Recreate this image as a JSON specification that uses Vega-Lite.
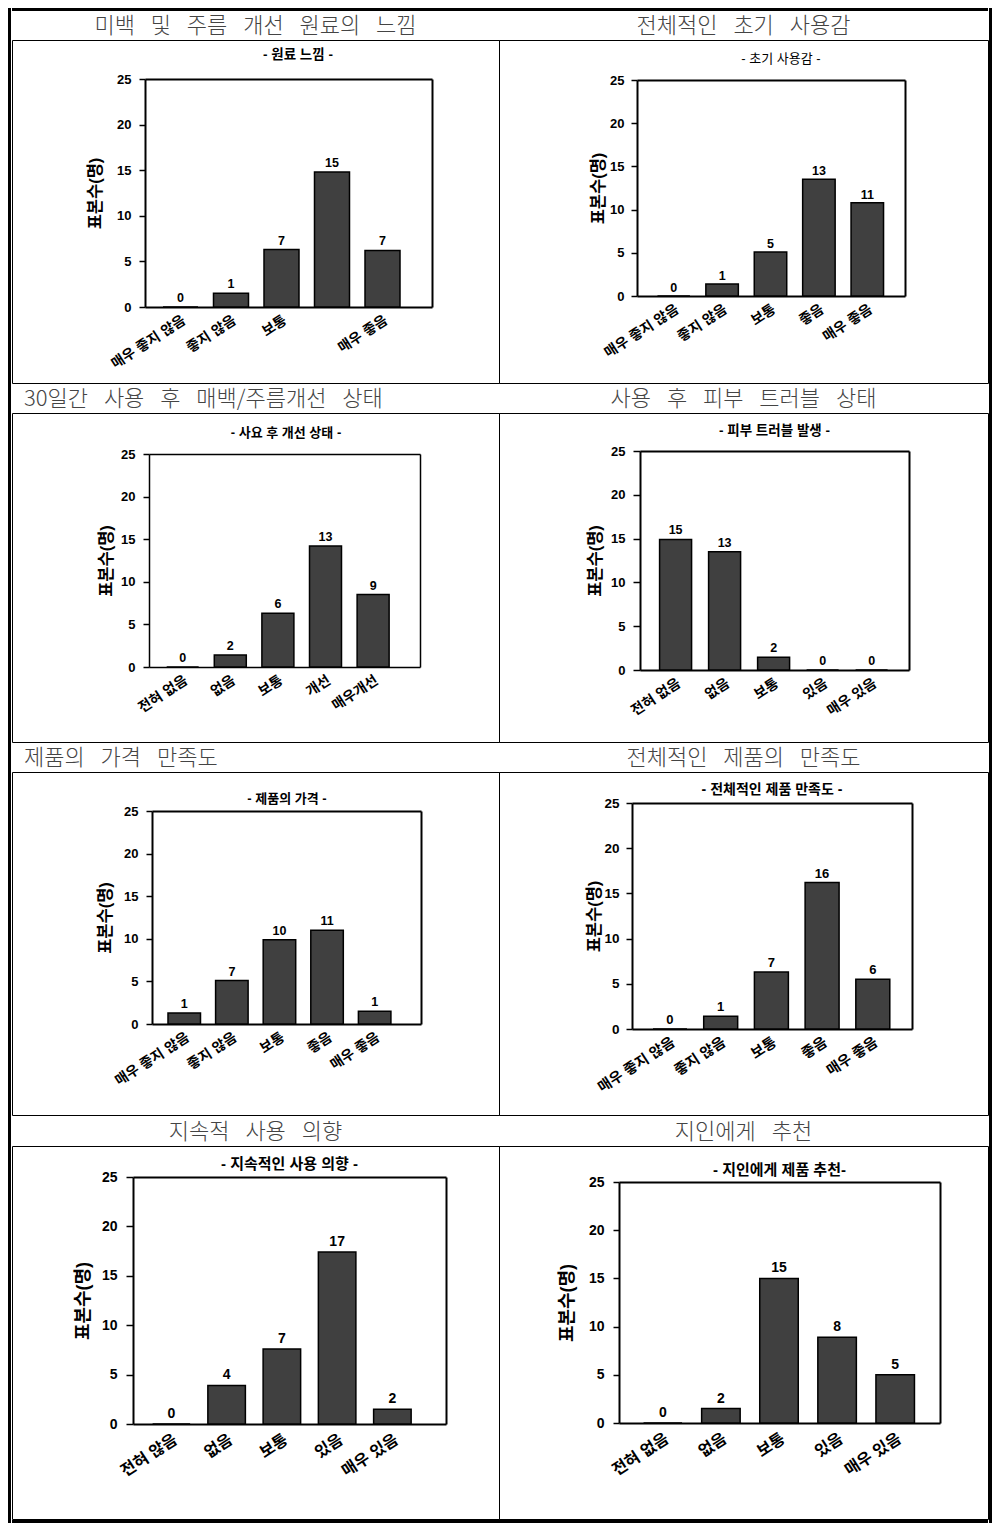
{
  "$schema": "https://vega.github.io/schema/vega-lite/v6.json",
  "padding": {"left": 8, "top": 8, "right": 7, "bottom": 8},
  "background": "white",
  "spacing": 0,
  "datasets": {
    "p1": [
      {"cat": "매우 좋지 않음", "v": 0, "label": 0},
      {"cat": "좋지 않음", "v": 1.5, "label": 1},
      {"cat": "보통", "v": 6.3, "label": 7},
      {"cat": "좋음", "v": 14.8, "label": 15},
      {"cat": "매우 좋음", "v": 6.2, "label": 7}
    ],
    "p2": [
      {"cat": "매우 좋지 않음", "v": 0, "label": 0},
      {"cat": "좋지 않음", "v": 1.4, "label": 1},
      {"cat": "보통", "v": 5.1, "label": 5},
      {"cat": "좋음", "v": 13.5, "label": 13},
      {"cat": "매우 좋음", "v": 10.8, "label": 11}
    ],
    "p3": [
      {"cat": "전혀 없음", "v": 0, "label": 0},
      {"cat": "없음", "v": 1.4, "label": 2},
      {"cat": "보통", "v": 6.3, "label": 6},
      {"cat": "개선", "v": 14.2, "label": 13},
      {"cat": "매우개선", "v": 8.5, "label": 9}
    ],
    "p4": [
      {"cat": "전혀 없음", "v": 14.9, "label": 15},
      {"cat": "없음", "v": 13.5, "label": 13},
      {"cat": "보통", "v": 1.45, "label": 2},
      {"cat": "있음", "v": 0, "label": 0},
      {"cat": "매우 있음", "v": 0, "label": 0}
    ],
    "p5": [
      {"cat": "매우 좋지 않음", "v": 1.3, "label": 1},
      {"cat": "좋지 않음", "v": 5.1, "label": 7},
      {"cat": "보통", "v": 9.9, "label": 10},
      {"cat": "좋음", "v": 11.0, "label": 11},
      {"cat": "매우 좋음", "v": 1.5, "label": 1}
    ],
    "p6": [
      {"cat": "매우 좋지 않음", "v": 0, "label": 0},
      {"cat": "좋지 않음", "v": 1.4, "label": 1},
      {"cat": "보통", "v": 6.3, "label": 7},
      {"cat": "좋음", "v": 16.2, "label": 16},
      {"cat": "매우 좋음", "v": 5.5, "label": 6}
    ],
    "p7": [
      {"cat": "전혀 않음", "v": 0, "label": 0},
      {"cat": "없음", "v": 3.9, "label": 4},
      {"cat": "보통", "v": 7.6, "label": 7},
      {"cat": "있음", "v": 17.4, "label": 17},
      {"cat": "매우 있음", "v": 1.5, "label": 2}
    ],
    "p8": [
      {"cat": "전혀 없음", "v": 0, "label": 0},
      {"cat": "없음", "v": 1.5, "label": 2},
      {"cat": "보통", "v": 15.0, "label": 15},
      {"cat": "있음", "v": 8.9, "label": 8},
      {"cat": "매우 있음", "v": 5.0, "label": 5}
    ]
  },
  "hconcat": [
    {"width": 3, "height": 1515, "data": {"values": []}, "mark": "point", "view": {"fill": "black", "stroke": null}},
    {
      "spacing": 0,
      "vconcat": [
        {"width": 976, "height": 3, "data": {"values": []}, "mark": "point", "view": {"fill": "black", "stroke": null}},
        {"spacing": 0, "bounds": "flush", "hconcat": [
          {"width": 487, "height": 28, "data": {"values": []}, "mark": "point",
           "title": {"text": "미백\u2002 및\u2002 주름\u2002 개선\u2002 원료의\u2002 느낌", "frame": "group", "anchor": "middle", "orient": "bottom", "offset": -13, "baseline": "middle", "font": "Noto Sans CJK KR", "fontSize": 22, "fontWeight": 300, "color": "#444444"}},
          {"width": 489, "height": 28, "data": {"values": []}, "mark": "point",
           "title": {"text": "전체적인\u2002 초기\u2002 사용감", "frame": "group", "anchor": "middle", "orient": "bottom", "offset": -13, "baseline": "middle", "font": "Noto Sans CJK KR", "fontSize": 22, "fontWeight": 300, "color": "#444444"}}
        ]},
        {"spacing": 0, "bounds": "flush", "hconcat": [
          {
            "width": 487, "height": 343, "data": {"name": "p1"},
            "title": {"text": "- 원료 느낌 -", "frame": "group", "anchor": "middle", "orient": "bottom", "offset": -328, "baseline": "middle", "dx": 42.5, "fontSize": 13.5, "fontWeight": "bold", "color": "black"},
            "layer": [
              {"mark": {"type": "bar", "fill": "#404040", "stroke": "black", "strokeWidth": 1.5},
               "encoding": {
                 "x": {"field": "cat", "type": "nominal", "sort": null,
                       "scale": {"range": [133, 420], "paddingInner": 0.307, "paddingOuter": 0.495, "align": 0.36},
                       "axis": {"orient": "bottom", "offset": -76, "title": null, "ticks": false, "domainWidth": 2, "labelAngle": -33, "labelAlign": "right", "labelBaseline": "top", "labelPadding": 6, "labelFontSize": 14, "labelFontWeight": "bold", "labelOverlap": false, "labelExpr": "datum.value == '좋음' ? '' : datum.value"}},
                 "y": {"field": "v", "type": "quantitative",
                       "scale": {"domain": [0, 25], "range": [267, 39], "nice": false, "zero": true},
                       "axis": {"orient": "left", "offset": -133, "values": [0, 5, 10, 15, 20, 25], "title": "표본수(명)", "titleFontSize": 16.5, "titleFontWeight": "bold", "titlePadding": 13, "labelFontSize": 13, "labelFontWeight": "bold", "labelPadding": 8, "tickSize": 6, "tickWidth": 1.5, "domainWidth": 2}}
               }},
              {"mark": {"type": "text", "baseline": "alphabetic", "dy": -5, "fontSize": 12.5, "fontWeight": "bold"},
               "encoding": {
                 "x": {"field": "cat", "type": "nominal", "sort": null, "axis": {"orient": "top", "offset": -39, "labels": false, "ticks": false, "title": null, "domainWidth": 2}},
                 "y": {"field": "v", "type": "quantitative", "axis": {"orient": "right", "offset": -67, "labels": false, "ticks": false, "title": null, "domainWidth": 2}},
                 "text": {"field": "label", "type": "quantitative", "format": "d"}
               }}
            ],
            "resolve": {"axis": {"x": "independent", "y": "independent"}}
          },
          {
            "width": 489, "height": 343, "data": {"name": "p2"},
            "title": {"text": "- 초기 사용감 -", "frame": "group", "anchor": "middle", "orient": "bottom", "offset": -324, "baseline": "middle", "dx": 37.5, "fontSize": 13, "fontWeight": "normal", "color": "black"},
            "layer": [
              {"mark": {"type": "bar", "fill": "#404040", "stroke": "black", "strokeWidth": 1.5},
               "encoding": {
                 "x": {"field": "cat", "type": "nominal", "sort": null,
                       "scale": {"range": [138, 406], "paddingInner": 0.329, "paddingOuter": 0.433, "align": 0.488},
                       "axis": {"orient": "bottom", "offset": -87, "title": null, "ticks": false, "domainWidth": 2, "labelAngle": -33, "labelAlign": "right", "labelBaseline": "top", "labelPadding": 6, "labelFontSize": 14, "labelFontWeight": "bold", "labelOverlap": false}},
                 "y": {"field": "v", "type": "quantitative",
                       "scale": {"domain": [0, 25], "range": [256, 40], "nice": false, "zero": true},
                       "axis": {"orient": "left", "offset": -138, "values": [0, 5, 10, 15, 20, 25], "title": "표본수(명)", "titleFontSize": 16.5, "titleFontWeight": "bold", "titlePadding": 3, "labelFontSize": 13, "labelFontWeight": "bold", "labelPadding": 7, "tickSize": 6, "tickWidth": 1.5, "domainWidth": 2}}
               }},
              {"mark": {"type": "text", "baseline": "alphabetic", "dy": -4, "fontSize": 12.5, "fontWeight": "bold"},
               "encoding": {
                 "x": {"field": "cat", "type": "nominal", "sort": null, "axis": {"orient": "top", "offset": -40, "labels": false, "ticks": false, "title": null, "domainWidth": 2}},
                 "y": {"field": "v", "type": "quantitative", "axis": {"orient": "right", "offset": -83, "labels": false, "ticks": false, "title": null, "domainWidth": 2}},
                 "text": {"field": "label", "type": "quantitative", "format": "d"}
               }}
            ],
            "resolve": {"axis": {"x": "independent", "y": "independent"}}
          }
        ]},
        {"spacing": 0, "bounds": "flush", "hconcat": [
          {"width": 487, "height": 28, "data": {"values": []}, "mark": "point",
           "title": {"text": "30일간\u2002 사용\u2002 후\u2002 매백/주름개선\u2002 상태", "frame": "group", "anchor": "start", "dx": 12, "orient": "bottom", "offset": -13, "baseline": "middle", "font": "Noto Sans CJK KR", "fontSize": 22, "fontWeight": 300, "color": "#444444"}},
          {"width": 489, "height": 28, "data": {"values": []}, "mark": "point",
           "title": {"text": "사용\u2002 후\u2002 피부\u2002 트러블\u2002 상태", "frame": "group", "anchor": "middle", "orient": "bottom", "offset": -13, "baseline": "middle", "font": "Noto Sans CJK KR", "fontSize": 22, "fontWeight": 300, "color": "#444444"}}
        ]},
        {"spacing": 0, "bounds": "flush", "hconcat": [
          {
            "width": 487, "height": 329, "data": {"name": "p3"},
            "title": {"text": "- 사요 후 개선 상태 -", "frame": "group", "anchor": "middle", "orient": "bottom", "offset": -309, "baseline": "middle", "dx": 30.5, "fontSize": 13, "fontWeight": "bold", "color": "black"},
            "layer": [
              {"mark": {"type": "bar", "fill": "#404040", "stroke": "black", "strokeWidth": 1.5},
               "encoding": {
                 "x": {"field": "cat", "type": "nominal", "sort": null,
                       "scale": {"range": [137, 408], "paddingInner": 0.328, "paddingOuter": 0.51, "align": 0.364},
                       "axis": {"orient": "bottom", "offset": -75, "title": null, "ticks": false, "domainWidth": 1.5, "labelAngle": -33, "labelAlign": "right", "labelBaseline": "top", "labelPadding": 6, "labelFontSize": 14, "labelFontWeight": "bold", "labelOverlap": false}},
                 "y": {"field": "v", "type": "quantitative",
                       "scale": {"domain": [0, 25], "range": [254, 41], "nice": false, "zero": true},
                       "axis": {"orient": "left", "offset": -137, "values": [0, 5, 10, 15, 20, 25], "title": "표본수(명)", "titleFontSize": 16.5, "titleFontWeight": "bold", "titlePadding": 6, "labelFontSize": 13, "labelFontWeight": "bold", "labelPadding": 8, "tickSize": 6, "tickWidth": 1.5, "domainWidth": 1.5}}
               }},
              {"mark": {"type": "text", "baseline": "alphabetic", "dy": -5, "fontSize": 12.5, "fontWeight": "bold"},
               "encoding": {
                 "x": {"field": "cat", "type": "nominal", "sort": null, "axis": {"orient": "top", "offset": -41, "labels": false, "ticks": false, "title": null, "domainWidth": 1.5}},
                 "y": {"field": "v", "type": "quantitative", "axis": {"orient": "right", "offset": -79, "labels": false, "ticks": false, "title": null, "domainWidth": 1.5}},
                 "text": {"field": "label", "type": "quantitative", "format": "d"}
               }}
            ],
            "resolve": {"axis": {"x": "independent", "y": "independent"}}
          },
          {
            "width": 489, "height": 329, "data": {"name": "p4"},
            "title": {"text": "- 피부 트러블 발생 -", "frame": "group", "anchor": "middle", "orient": "bottom", "offset": -311, "baseline": "middle", "dx": 31, "fontSize": 13.5, "fontWeight": "bold", "color": "black"},
            "layer": [
              {"mark": {"type": "bar", "fill": "#404040", "stroke": "black", "strokeWidth": 1.5},
               "encoding": {
                 "x": {"field": "cat", "type": "nominal", "sort": null,
                       "scale": {"range": [141, 410], "paddingInner": 0.347, "paddingOuter": 0.418, "align": 0.478},
                       "axis": {"orient": "bottom", "offset": -72, "title": null, "ticks": false, "domainWidth": 2, "labelAngle": -33, "labelAlign": "right", "labelBaseline": "top", "labelPadding": 6, "labelFontSize": 14, "labelFontWeight": "bold", "labelOverlap": false}},
                 "y": {"field": "v", "type": "quantitative",
                       "scale": {"domain": [0, 25], "range": [257, 38], "nice": false, "zero": true},
                       "axis": {"orient": "left", "offset": -141, "values": [0, 5, 10, 15, 20, 25], "title": "표본수(명)", "titleFontSize": 16.5, "titleFontWeight": "bold", "titlePadding": 7, "labelFontSize": 13, "labelFontWeight": "bold", "labelPadding": 8, "tickSize": 7, "tickWidth": 1.5, "domainWidth": 2}}
               }},
              {"mark": {"type": "text", "baseline": "alphabetic", "dy": -5, "fontSize": 12.5, "fontWeight": "bold"},
               "encoding": {
                 "x": {"field": "cat", "type": "nominal", "sort": null, "axis": {"orient": "top", "offset": -38, "labels": false, "ticks": false, "title": null, "domainWidth": 2}},
                 "y": {"field": "v", "type": "quantitative", "axis": {"orient": "right", "offset": -79, "labels": false, "ticks": false, "title": null, "domainWidth": 2}},
                 "text": {"field": "label", "type": "quantitative", "format": "d"}
               }}
            ],
            "resolve": {"axis": {"x": "independent", "y": "independent"}}
          }
        ]},
        {"spacing": 0, "bounds": "flush", "hconcat": [
          {"width": 487, "height": 28, "data": {"values": []}, "mark": "point",
           "title": {"text": "제품의\u2002 가격\u2002 만족도", "frame": "group", "anchor": "start", "dx": 12, "orient": "bottom", "offset": -13, "baseline": "middle", "font": "Noto Sans CJK KR", "fontSize": 22, "fontWeight": 300, "color": "#444444"}},
          {"width": 489, "height": 28, "data": {"values": []}, "mark": "point",
           "title": {"text": "전체적인\u2002 제품의\u2002 만족도", "frame": "group", "anchor": "middle", "orient": "bottom", "offset": -13, "baseline": "middle", "font": "Noto Sans CJK KR", "fontSize": 22, "fontWeight": 300, "color": "#444444"}}
        ]},
        {"spacing": 0, "bounds": "flush", "hconcat": [
          {
            "width": 487, "height": 343, "data": {"name": "p5"},
            "title": {"text": "- 제품의 가격 -", "frame": "group", "anchor": "middle", "orient": "bottom", "offset": -316, "baseline": "middle", "dx": 31.5, "fontSize": 13, "fontWeight": "bold", "color": "black"},
            "layer": [
              {"mark": {"type": "bar", "fill": "#404040", "stroke": "black", "strokeWidth": 1.5},
               "encoding": {
                 "x": {"field": "cat", "type": "nominal", "sort": null,
                       "scale": {"range": [140, 409], "paddingInner": 0.317, "paddingOuter": 0.484, "align": 0.347},
                       "axis": {"orient": "bottom", "offset": -91, "title": null, "ticks": false, "domainWidth": 2, "labelAngle": -33, "labelAlign": "right", "labelBaseline": "top", "labelPadding": 6, "labelFontSize": 14, "labelFontWeight": "bold", "labelOverlap": false}},
                 "y": {"field": "v", "type": "quantitative",
                       "scale": {"domain": [0, 25], "range": [252, 39], "nice": false, "zero": true},
                       "axis": {"orient": "left", "offset": -140, "values": [0, 5, 10, 15, 20, 25], "title": "표본수(명)", "titleFontSize": 16.5, "titleFontWeight": "bold", "titlePadding": 10, "labelFontSize": 13, "labelFontWeight": "bold", "labelPadding": 8, "tickSize": 6, "tickWidth": 1.5, "domainWidth": 2}}
               }},
              {"mark": {"type": "text", "baseline": "alphabetic", "dy": -5, "fontSize": 12.5, "fontWeight": "bold"},
               "encoding": {
                 "x": {"field": "cat", "type": "nominal", "sort": null, "axis": {"orient": "top", "offset": -39, "labels": false, "ticks": false, "title": null, "domainWidth": 2}},
                 "y": {"field": "v", "type": "quantitative", "axis": {"orient": "right", "offset": -78, "labels": false, "ticks": false, "title": null, "domainWidth": 2}},
                 "text": {"field": "label", "type": "quantitative", "format": "d"}
               }}
            ],
            "resolve": {"axis": {"x": "independent", "y": "independent"}}
          },
          {
            "width": 489, "height": 343, "data": {"name": "p6"},
            "title": {"text": "- 전체적인 제품 만족도 -", "frame": "group", "anchor": "middle", "orient": "bottom", "offset": -325, "baseline": "middle", "dx": 28.5, "fontSize": 14, "fontWeight": "bold", "color": "black"},
            "layer": [
              {"mark": {"type": "bar", "fill": "#404040", "stroke": "black", "strokeWidth": 1.5},
               "encoding": {
                 "x": {"field": "cat", "type": "nominal", "sort": null,
                       "scale": {"range": [133, 413], "paddingInner": 0.33, "paddingOuter": 0.426, "align": 0.486},
                       "axis": {"orient": "bottom", "offset": -86, "title": null, "ticks": false, "domainWidth": 2, "labelAngle": -33, "labelAlign": "right", "labelBaseline": "top", "labelPadding": 6, "labelFontSize": 14.5, "labelFontWeight": "bold", "labelOverlap": false}},
                 "y": {"field": "v", "type": "quantitative",
                       "scale": {"domain": [0, 25], "range": [257, 31], "nice": false, "zero": true},
                       "axis": {"orient": "left", "offset": -133, "values": [0, 5, 10, 15, 20, 25], "title": "표본수(명)", "titleFontSize": 16.5, "titleFontWeight": "bold", "titlePadding": 1, "labelFontSize": 13.5, "labelFontWeight": "bold", "labelPadding": 7, "tickSize": 6, "tickWidth": 1.5, "domainWidth": 2}}
               }},
              {"mark": {"type": "text", "baseline": "alphabetic", "dy": -5, "fontSize": 13, "fontWeight": "bold"},
               "encoding": {
                 "x": {"field": "cat", "type": "nominal", "sort": null, "axis": {"orient": "top", "offset": -31, "labels": false, "ticks": false, "title": null, "domainWidth": 2}},
                 "y": {"field": "v", "type": "quantitative", "axis": {"orient": "right", "offset": -76, "labels": false, "ticks": false, "title": null, "domainWidth": 2}},
                 "text": {"field": "label", "type": "quantitative", "format": "d"}
               }}
            ],
            "resolve": {"axis": {"x": "independent", "y": "independent"}}
          }
        ]},
        {"spacing": 0, "bounds": "flush", "hconcat": [
          {"width": 487, "height": 29, "data": {"values": []}, "mark": "point",
           "title": {"text": "지속적\u2002 사용\u2002 의향", "frame": "group", "anchor": "middle", "orient": "bottom", "offset": -13.5, "baseline": "middle", "font": "Noto Sans CJK KR", "fontSize": 22, "fontWeight": 300, "color": "#444444"}},
          {"width": 489, "height": 29, "data": {"values": []}, "mark": "point",
           "title": {"text": "지인에게\u2002 추천", "frame": "group", "anchor": "middle", "orient": "bottom", "offset": -13.5, "baseline": "middle", "font": "Noto Sans CJK KR", "fontSize": 22, "fontWeight": 300, "color": "#444444"}}
        ]},
        {"spacing": 0, "bounds": "flush", "hconcat": [
          {
            "width": 487, "height": 373, "data": {"name": "p7"},
            "title": {"text": "- 지속적인 사용 의향 -", "frame": "group", "anchor": "middle", "orient": "bottom", "offset": -355, "baseline": "middle", "dx": 34, "fontSize": 15, "fontWeight": "bold", "color": "black"},
            "layer": [
              {"mark": {"type": "bar", "fill": "#404040", "stroke": "black", "strokeWidth": 1.5},
               "encoding": {
                 "x": {"field": "cat", "type": "nominal", "sort": null,
                       "scale": {"range": [121, 434], "paddingInner": 0.321, "paddingOuter": 0.493, "align": 0.36},
                       "axis": {"orient": "bottom", "offset": -95, "title": null, "ticks": false, "domainWidth": 2, "labelAngle": -33, "labelAlign": "right", "labelBaseline": "top", "labelPadding": 7, "labelFontSize": 16, "labelFontWeight": "bold", "labelOverlap": false}},
                 "y": {"field": "v", "type": "quantitative",
                       "scale": {"domain": [0, 25], "range": [278, 31], "nice": false, "zero": true},
                       "axis": {"orient": "left", "offset": -121, "values": [0, 5, 10, 15, 20, 25], "title": "표본수(명)", "titleFontSize": 18, "titleFontWeight": "bold", "titlePadding": 9, "labelFontSize": 14, "labelFontWeight": "bold", "labelPadding": 9, "tickSize": 7, "tickWidth": 1.5, "domainWidth": 2}}
               }},
              {"mark": {"type": "text", "baseline": "alphabetic", "dy": -6, "fontSize": 14, "fontWeight": "bold"},
               "encoding": {
                 "x": {"field": "cat", "type": "nominal", "sort": null, "axis": {"orient": "top", "offset": -31, "labels": false, "ticks": false, "title": null, "domainWidth": 2}},
                 "y": {"field": "v", "type": "quantitative", "axis": {"orient": "right", "offset": -53, "labels": false, "ticks": false, "title": null, "domainWidth": 2}},
                 "text": {"field": "label", "type": "quantitative", "format": "d"}
               }}
            ],
            "resolve": {"axis": {"x": "independent", "y": "independent"}}
          },
          {
            "width": 489, "height": 373, "data": {"name": "p8"},
            "title": {"text": "- 지인에게 제품 추천-", "frame": "group", "anchor": "middle", "orient": "bottom", "offset": -349, "baseline": "middle", "dx": 36, "fontSize": 15, "fontWeight": "bold", "color": "black"},
            "layer": [
              {"mark": {"type": "bar", "fill": "#404040", "stroke": "black", "strokeWidth": 1.5},
               "encoding": {
                 "x": {"field": "cat", "type": "nominal", "sort": null,
                       "scale": {"range": [120, 441], "paddingInner": 0.337, "paddingOuter": 0.431, "align": 0.49},
                       "axis": {"orient": "bottom", "offset": -96, "title": null, "ticks": false, "domainWidth": 2, "labelAngle": -33, "labelAlign": "right", "labelBaseline": "top", "labelPadding": 7, "labelFontSize": 16, "labelFontWeight": "bold", "labelOverlap": false}},
                 "y": {"field": "v", "type": "quantitative",
                       "scale": {"domain": [0, 25], "range": [277, 36], "nice": false, "zero": true},
                       "axis": {"orient": "left", "offset": -120, "values": [0, 5, 10, 15, 20, 25], "title": "표본수(명)", "titleFontSize": 18, "titleFontWeight": "bold", "titlePadding": 12, "labelFontSize": 14, "labelFontWeight": "bold", "labelPadding": 9, "tickSize": 6, "tickWidth": 1.5, "domainWidth": 2}}
               }},
              {"mark": {"type": "text", "baseline": "alphabetic", "dy": -6, "fontSize": 14, "fontWeight": "bold"},
               "encoding": {
                 "x": {"field": "cat", "type": "nominal", "sort": null, "axis": {"orient": "top", "offset": -36, "labels": false, "ticks": false, "title": null, "domainWidth": 2}},
                 "y": {"field": "v", "type": "quantitative", "axis": {"orient": "right", "offset": -48, "labels": false, "ticks": false, "title": null, "domainWidth": 2}},
                 "text": {"field": "label", "type": "quantitative", "format": "d"}
               }}
            ],
            "resolve": {"axis": {"x": "independent", "y": "independent"}}
          }
        ]},
        {"width": 976, "height": 3, "data": {"values": []}, "mark": "point", "view": {"fill": "black", "stroke": null}}
      ]
    },
    {"width": 3, "height": 1515, "data": {"values": []}, "mark": "point", "view": {"fill": "black", "stroke": null}}
  ],
  "config": {
    "font": "Liberation Sans, Noto Sans CJK KR",
    "view": {"stroke": "black", "strokeWidth": 1},
    "concat": {"spacing": 0},
    "axis": {"grid": false, "domainColor": "black", "tickColor": "black", "labelColor": "black", "titleColor": "black"},
    "title": {"color": "black"}
  }
}
